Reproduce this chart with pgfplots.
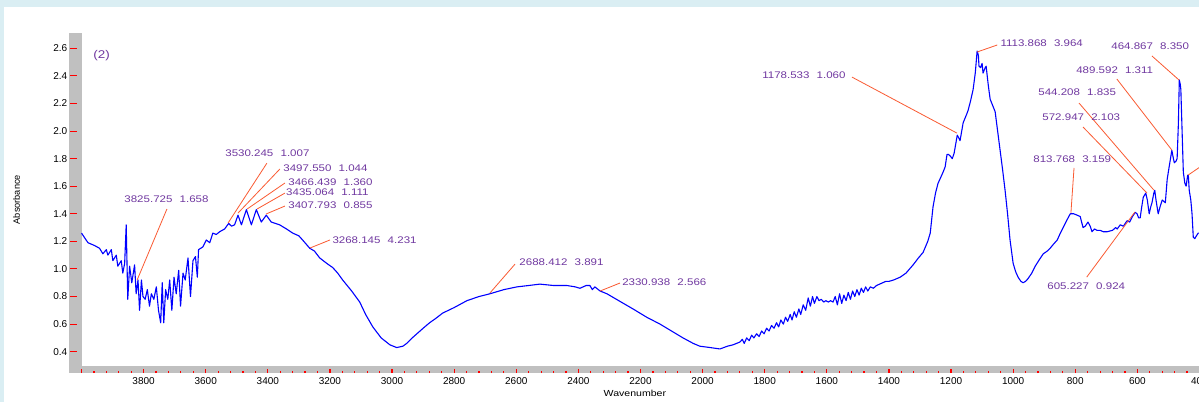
\documentclass[border=0pt]{standalone}
\usepackage{fontspec}
\setmainfont{Liberation Sans}
\newfontfamily\annfont[FakeStretch=1.2]{Liberation Sans}
\usepackage{pgfplots}
\pgfplotsset{compat=1.18}
\definecolor{bgblue}{RGB}{218,238,243}
\definecolor{barg}{RGB}{192,192,192}
\definecolor{annpurple}{RGB}{112,56,160}
\definecolor{annline}{RGB}{250,90,50}
\newcommand\ann[2]{#1\hspace{3.6pt}#2}
\tikzset{
  ann/.style={anchor=west, inner sep=0pt, text=annpurple, font=\annfont\fontsize{4.8}{5}\selectfont},
  aline/.style={draw=annline, line width=0.4pt},
}
\begin{document}
\begin{tikzpicture}
\useasboundingbox (0,0) rectangle (599.5pt,201pt);
\clip (0,0) rectangle (599.5pt,201pt);
\fill[bgblue] (0,0) rectangle (599.5pt,201pt);
\fill[white] (2pt,0) rectangle (599.5pt,197.5pt);
\fill[barg] (34.5pt,14.5pt) rectangle (40.75pt,184.5pt);
\fill[barg] (34.5pt,14.5pt) rectangle (599.5pt,18.25pt);
\begin{axis}[
  at={(40.75pt,18.25pt)}, anchor=south west,
  scale only axis, width=559pt, height=166.2pt,
  x dir=reverse, xmin=400, xmax=4000, ymin=0.3, ymax=2.71,
  axis line style={draw=none},
  tick pos=left, tick align=inside,
  major tick length=3.3pt, minor tick length=1pt,
  every tick/.append style={draw=red, color=red},
  every minor tick/.append style={draw=red, color=red, line width=0.6pt},
  xtick={400,600,800,1000,1200,1400,1600,1800,2000,2200,2400,2600,2800,3000,3200,3400,3600,3800,4000},
  xticklabels={400,600,800,1000,1200,1400,1600,1800,2000,2200,2400,2600,2800,3000,3200,3400,3600,3800,},
  minor x tick num=4,
  ytick={0.4,0.6,0.8,1.0,1.2,1.4,1.6,1.8,2.0,2.2,2.4,2.6},
  xtick style={draw=red, line width=0.6pt, yshift=-3.75pt, dash pattern=on 2pt off 20pt},
  ytick style={draw=red, line width=0.5pt, xshift=-5.75pt},
  /pgf/number format/assume math mode=true,
  ticklabel style={font=\fontsize{5}{6}\selectfont, inner sep=0pt},
  xticklabel style={anchor=north, yshift=-5.6pt},
  yticklabel style={anchor=east, xshift=-6.9pt, /pgf/number format/fixed, /pgf/number format/fixed zerofill, /pgf/number format/precision=1},
  xlabel={Wavenumber},
  xlabel style={at={(axis description cs:0.495,-0.072)}, anchor=north, inner sep=0pt, font=\annfont\fontsize{4.4}{5}\selectfont},
  ylabel={Absorbance},
  ylabel style={at={(axis description cs:-0.0581,0.499)}, anchor=center, inner sep=0pt, font=\fontsize{4.6}{5}\selectfont},
  clip=false,
]
\addplot[blue, line width=0.55pt, line join=round] coordinates {
(4000,1.26)(3979,1.19)(3958,1.17)(3942,1.15)(3931,1.11)(3920,1.14)(3915,1.10)(3904,1.14)(3899,1.06)(3888,1.10)
(3883,1.02)(3872,1.06)(3867,0.97)(3861,1.04)(3856,1.32)(3851,0.78)(3845,1.02)(3838,0.90)(3829,1.03)(3824,0.82)
(3818,0.92)(3813,0.70)(3807,0.92)(3802,0.80)(3795,0.78)(3788,0.85)(3781,0.73)(3775,0.82)(3767,0.78)(3759,0.87)
(3752,0.70)(3745,0.61)(3740,0.90)(3735,0.61)(3729,0.85)(3722,0.78)(3716,0.92)(3709,0.70)(3702,0.94)(3695,0.82)
(3687,0.99)(3681,0.73)(3673,0.97)(3666,0.92)(3657,1.08)(3649,0.80)(3641,1.06)(3633,1.09)(3627,0.94)(3623,1.14)
(3609,1.16)(3598,1.21)(3587,1.19)(3577,1.26)(3566,1.25)(3555,1.27)(3539,1.29)(3526,1.33)(3517,1.31)(3507,1.32)
(3496,1.39)(3485,1.32)(3469,1.43)(3453,1.32)(3437,1.43)(3421,1.34)(3405,1.39)(3389,1.34)(3362,1.32)(3340,1.29)
(3320,1.26)(3300,1.24)(3288,1.21)(3265,1.15)(3250,1.13)(3233,1.08)(3210,1.04)(3191,1.01)(3175,0.97)(3159,0.92)
(3130,0.84)(3104,0.76)(3085,0.67)(3062,0.58)(3035,0.50)(3007,0.45)(2985,0.43)(2965,0.44)(2953,0.46)(2935,0.50)
(2920,0.53)(2900,0.57)(2879,0.61)(2860,0.64)(2837,0.68)(2800,0.72)(2759,0.77)(2720,0.80)(2685,0.82)(2640,0.85)
(2598,0.87)(2560,0.88)(2524,0.89)(2480,0.88)(2437,0.88)(2410,0.87)(2395,0.86)(2375,0.88)(2363,0.88)(2355,0.85)
(2347,0.87)(2330,0.84)(2308,0.82)(2270,0.77)(2224,0.71)(2180,0.65)(2137,0.60)(2100,0.55)(2063,0.50)(2030,0.46)
(2009,0.44)(1975,0.43)(1944,0.42)(1920,0.44)(1902,0.45)(1880,0.47)
(1872,0.49)(1866,0.46)(1858,0.50)(1850,0.48)(1842,0.52)(1835,0.50)(1826,0.53)(1818,0.51)(1810,0.55)(1802,0.53)
(1794,0.57)(1786,0.55)(1778,0.59)(1770,0.57)(1762,0.61)(1755,0.58)(1748,0.63)(1740,0.60)(1733,0.65)(1726,0.62)
(1718,0.67)(1712,0.63)(1705,0.69)(1698,0.65)(1690,0.71)(1684,0.67)(1676,0.74)(1668,0.70)(1660,0.79)(1653,0.73)
(1646,0.80)(1640,0.75)(1632,0.80)(1625,0.77)(1618,0.78)(1610,0.76)(1603,0.77)(1595,0.76)(1588,0.77)(1580,0.76)
(1573,0.80)(1566,0.74)(1559,0.82)(1552,0.75)(1545,0.81)(1538,0.77)(1531,0.83)(1524,0.78)(1517,0.84)(1510,0.80)
(1503,0.85)(1496,0.81)(1489,0.86)(1482,0.83)(1475,0.87)(1468,0.84)(1460,0.87)(1450,0.86)(1440,0.88)(1430,0.89)
(1420,0.90)(1410,0.91)(1400,0.91)(1385,0.92)(1364,0.94)
(1345,0.97)(1322,1.03)(1305,1.08)(1290,1.12)(1275,1.20)(1267,1.26)(1258,1.45)(1250,1.55)(1242,1.62)(1226,1.70)
(1219,1.74)(1213,1.83)(1208,1.83)(1203,1.82)(1196,1.80)(1190,1.84)(1180,1.97)(1175,1.95)(1171,1.93)(1161,2.06)
(1150,2.12)(1145,2.15)(1137,2.22)(1129,2.30)(1122,2.42)(1116,2.58)(1112,2.55)(1110,2.47)(1105,2.46)(1100,2.49)
(1097,2.42)(1090,2.46)(1087,2.47)(1080,2.33)(1074,2.23)(1065,2.18)(1058,2.14)(1050,2.00)(1042,1.86)(1034,1.72)
(1026,1.57)(1018,1.40)(1010,1.21)(1000,1.04)(992,0.98)(984,0.94)(975,0.91)(968,0.90)(960,0.91)(952,0.93)
(940,0.97)(929,1.02)(915,1.07)(903,1.11)(890,1.13)(881,1.15)(870,1.18)(858,1.21)(850,1.25)(839,1.30)
(828,1.35)(816,1.40)(805,1.40)(794,1.39)(784,1.38)(775,1.30)(768,1.31)(759,1.34)(752,1.31)(746,1.27)
(738,1.29)(730,1.28)(720,1.28)(710,1.27)(697,1.27)(680,1.28)(670,1.30)(665,1.29)(655,1.32)(645,1.31)
(633,1.35)(625,1.34)(616,1.38)(607,1.41)(601,1.40)(596,1.37)(591,1.37)(586,1.45)(581,1.52)(573,1.55)
(568,1.50)(562,1.40)(557,1.45)(553,1.48)(547,1.55)(544,1.57)(540,1.50)(533,1.40)(527,1.45)(520,1.50)
(515,1.49)(510,1.48)(504,1.65)(497,1.75)(489,1.86)(484,1.80)(481,1.77)(476,1.78)(472,1.80)(468,2.05)
(465,2.37)(462,2.34)(460,2.30)(456,2.00)(452,1.70)(447,1.62)(443,1.60)(438,1.68)(436,1.68)(433,1.57)
(428,1.50)(424,1.40)(420,1.23)(415,1.22)(410,1.24)(404,1.26)(400,1.26)
};
\node[ann, anchor=center, font=\annfont\fontsize{5.6}{6}\selectfont] at (3935,2.55) {(2)};
% leader lines
\draw[aline] (3821,0.919) -- (3725,1.434);
\draw[aline] (3528,1.333) -- (3403,1.767);
\draw[aline] (3496,1.405) -- (3361,1.725);
\draw[aline] (3467,1.434) -- (3345,1.623);
\draw[aline] (3435,1.434) -- (3345,1.550);
\draw[aline] (3406,1.398) -- (3345,1.456);
\draw[aline] (3264,1.152) -- (3200,1.210);
\draw[aline] (2685,0.825) -- (2604,1.035);
\draw[aline] (2330,0.840) -- (2266,0.898);
\draw[aline] (1181,1.985) -- (1519,2.391);
\draw[aline] (1116,2.573) -- (1051,2.624);
\draw[aline] (466,2.370) -- (553,2.544);
\draw[aline] (489,1.862) -- (666,2.377);
\draw[aline] (547,1.572) -- (788,2.203);
\draw[aline] (569,1.550) -- (775,2.029);
\draw[aline] (814,1.405) -- (804,1.732);
\draw[aline] (608,1.413) -- (763,0.941);
\draw[aline] (437,1.680) -- (366,1.789);
% labels
\node[ann] at (3863,1.507) {\ann{3825.725}{1.658}};
\node[ann] at (3538,1.840) {\ann{3530.245}{1.007}};
\node[ann] at (3351,1.731) {\ann{3497.550}{1.044}};
\node[ann] at (3335,1.630) {\ann{3466.439}{1.360}};
\node[ann] at (3342,1.557) {\ann{3435.064}{1.111}};
\node[ann] at (3335,1.464) {\ann{3407.793}{0.855}};
\node[ann] at (3193,1.210) {\ann{3268.145}{4.231}};
\node[ann] at (2591,1.050) {\ann{2688.412}{3.891}};
\node[ann] at (2260,0.905) {\ann{2330.938}{2.566}};
\node[ann] at (1809,2.406) {\ann{1178.533}{1.060}};
\node[ann] at (1042,2.638) {\ann{1113.868}{3.964}};
\node[ann] at (685,2.616) {\ann{464.867}{8.350}};
\node[ann] at (798,2.442) {\ann{489.592}{1.311}};
\node[ann] at (920,2.283) {\ann{544.208}{1.835}};
\node[ann] at (907,2.101) {\ann{572.947}{2.103}};
\node[ann] at (936,1.797) {\ann{813.768}{3.159}};
\node[ann] at (891,0.876) {\ann{605.227}{0.924}};
\end{axis}
\end{tikzpicture}
\end{document}
